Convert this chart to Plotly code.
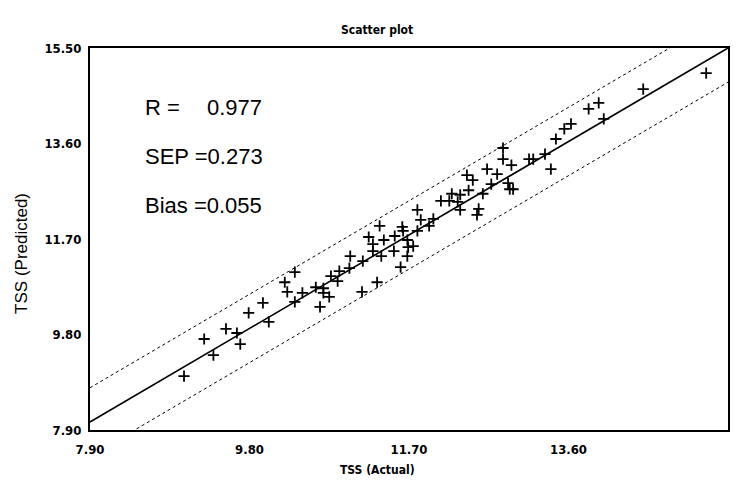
import plotly.graph_objects as go

# Data (TSS actual vs predicted)
tss_actual = [9.02, 9.37, 9.26, 9.52, 9.65, 9.69, 9.79, 9.96, 10.03, 10.34,
              10.22, 10.25, 10.34, 10.43, 10.59, 10.68, 10.68, 10.75, 10.64, 10.77,
              10.87, 10.85, 10.99, 11.00, 11.15, 11.14, 11.32, 11.22, 11.27, 11.27,
              11.35, 11.40, 11.37, 11.53, 11.52, 11.62, 11.63, 11.68, 11.69, 11.75,
              11.68, 11.60, 11.80, 11.84, 11.80, 11.99, 11.94, 12.08, 12.18, 12.21,
              12.31, 12.28, 12.31, 12.39, 12.46, 12.41, 12.58, 12.53, 12.51, 12.63,
              12.75, 12.68, 12.88, 12.90, 12.94, 12.82, 12.82, 12.92, 13.13, 13.18,
              13.32, 13.39, 13.45, 13.55, 13.63, 13.84, 13.96, 14.02, 14.49, 15.24]
tss_predicted = [8.97, 9.39, 9.71, 9.91, 9.83, 9.61, 10.23, 10.43, 10.05, 11.04,
                 10.84, 10.65, 10.45, 10.63, 10.74, 10.72, 10.63, 10.55, 10.35, 10.96,
                 11.06, 10.86, 11.12, 11.36, 11.26, 10.65, 10.84, 11.74, 11.60, 11.46,
                 11.96, 11.68, 11.36, 11.76, 11.46, 11.94, 11.86, 11.68, 11.54, 11.56,
                 11.36, 11.14, 12.28, 12.08, 11.86, 12.10, 11.96, 12.46, 12.46, 12.60,
                 12.58, 12.44, 12.28, 12.97, 12.87, 12.67, 12.60, 12.30, 12.18, 13.09,
                 12.99, 12.79, 12.81, 12.69, 12.69, 13.51, 13.29, 13.17, 13.29, 13.29,
                 13.39, 13.09, 13.69, 13.89, 13.99, 14.29, 14.41, 14.09, 14.68, 15.00]

fit_x = [7.90, 15.50]
fit_y = [8.06, 15.50]
band = 0.68

tick_vals = [7.90, 9.80, 11.70, 13.60, 15.50]
tick_text = ["7.90", "9.80", "11.70", "13.60", "15.50"]

stats_labels = ["R =", "SEP =0.273", "Bias =0.055"]
r_value = "0.977"

narrow = "Liberation Sans Narrow, DejaVu Sans Condensed, Arial Narrow, sans-serif"
regular = "Liberation Sans, Arial, sans-serif"

fig = go.Figure()
fig.add_trace(go.Scatter(x=fit_x, y=[v + band for v in fit_y], mode="lines",
                         line=dict(color="black", width=1, dash="dot"), hoverinfo="skip"))
fig.add_trace(go.Scatter(x=fit_x, y=[v - band for v in fit_y], mode="lines",
                         line=dict(color="black", width=1, dash="dot"), hoverinfo="skip"))
fig.add_trace(go.Scatter(x=fit_x, y=fit_y, mode="lines",
                         line=dict(color="black", width=1.6), hoverinfo="skip"))
fig.add_trace(go.Scatter(x=tss_actual, y=tss_predicted, mode="markers",
                         marker=dict(symbol="cross-thin", size=8,
                                     line=dict(color="black", width=1.8), color="black")))

axis_common = dict(
    range=[7.90, 15.50], tickvals=tick_vals,
    ticktext=["<b>%s</b>" % t for t in tick_text],
    showgrid=False, zeroline=False, showline=True, mirror=True,
    linecolor="black", linewidth=2, ticks="",
    tickfont=dict(family=narrow, size=13, color="black"),
)
fig.update_xaxes(**axis_common, ticklabelstandoff=6)
fig.update_yaxes(**axis_common, ticklabelstandoff=4)

annotations = [
    dict(text="<b>Scatter plot</b>", x=0.45, y=1, xref="paper", yref="paper",
         yshift=18, yanchor="middle", showarrow=False,
         font=dict(family=narrow, size=12, color="black")),
    dict(text="<b>TSS (Actual)</b>", x=0.45, y=0, xref="paper", yref="paper",
         yshift=-40, yanchor="middle", showarrow=False,
         font=dict(family=narrow, size=12, color="black")),
    dict(text="TSS (Predicted)", x=0, y=0.461, xref="paper", yref="paper",
         xshift=-68, xanchor="center", yanchor="middle", textangle=-90, showarrow=False,
         font=dict(family=regular, size=17, color="black")),
    dict(text=r_value, x=0.180, y=0.843, xref="paper", yref="paper", xanchor="left",
         yanchor="middle", showarrow=False, font=dict(family=regular, size=22, color="black")),
]
for lbl, yy in zip(stats_labels, [0.843, 0.717, 0.589]):
    annotations.append(dict(text=lbl, x=0.083, y=yy, xref="paper", yref="paper",
                            xanchor="left", yanchor="middle", showarrow=False,
                            font=dict(family=regular, size=22, color="black")))

fig.update_layout(
    width=745, height=482,
    margin=dict(l=90, r=17, t=48, b=52),
    paper_bgcolor="white", plot_bgcolor="white",
    showlegend=False,
    annotations=annotations,
)

fig.write_html("out.html")
